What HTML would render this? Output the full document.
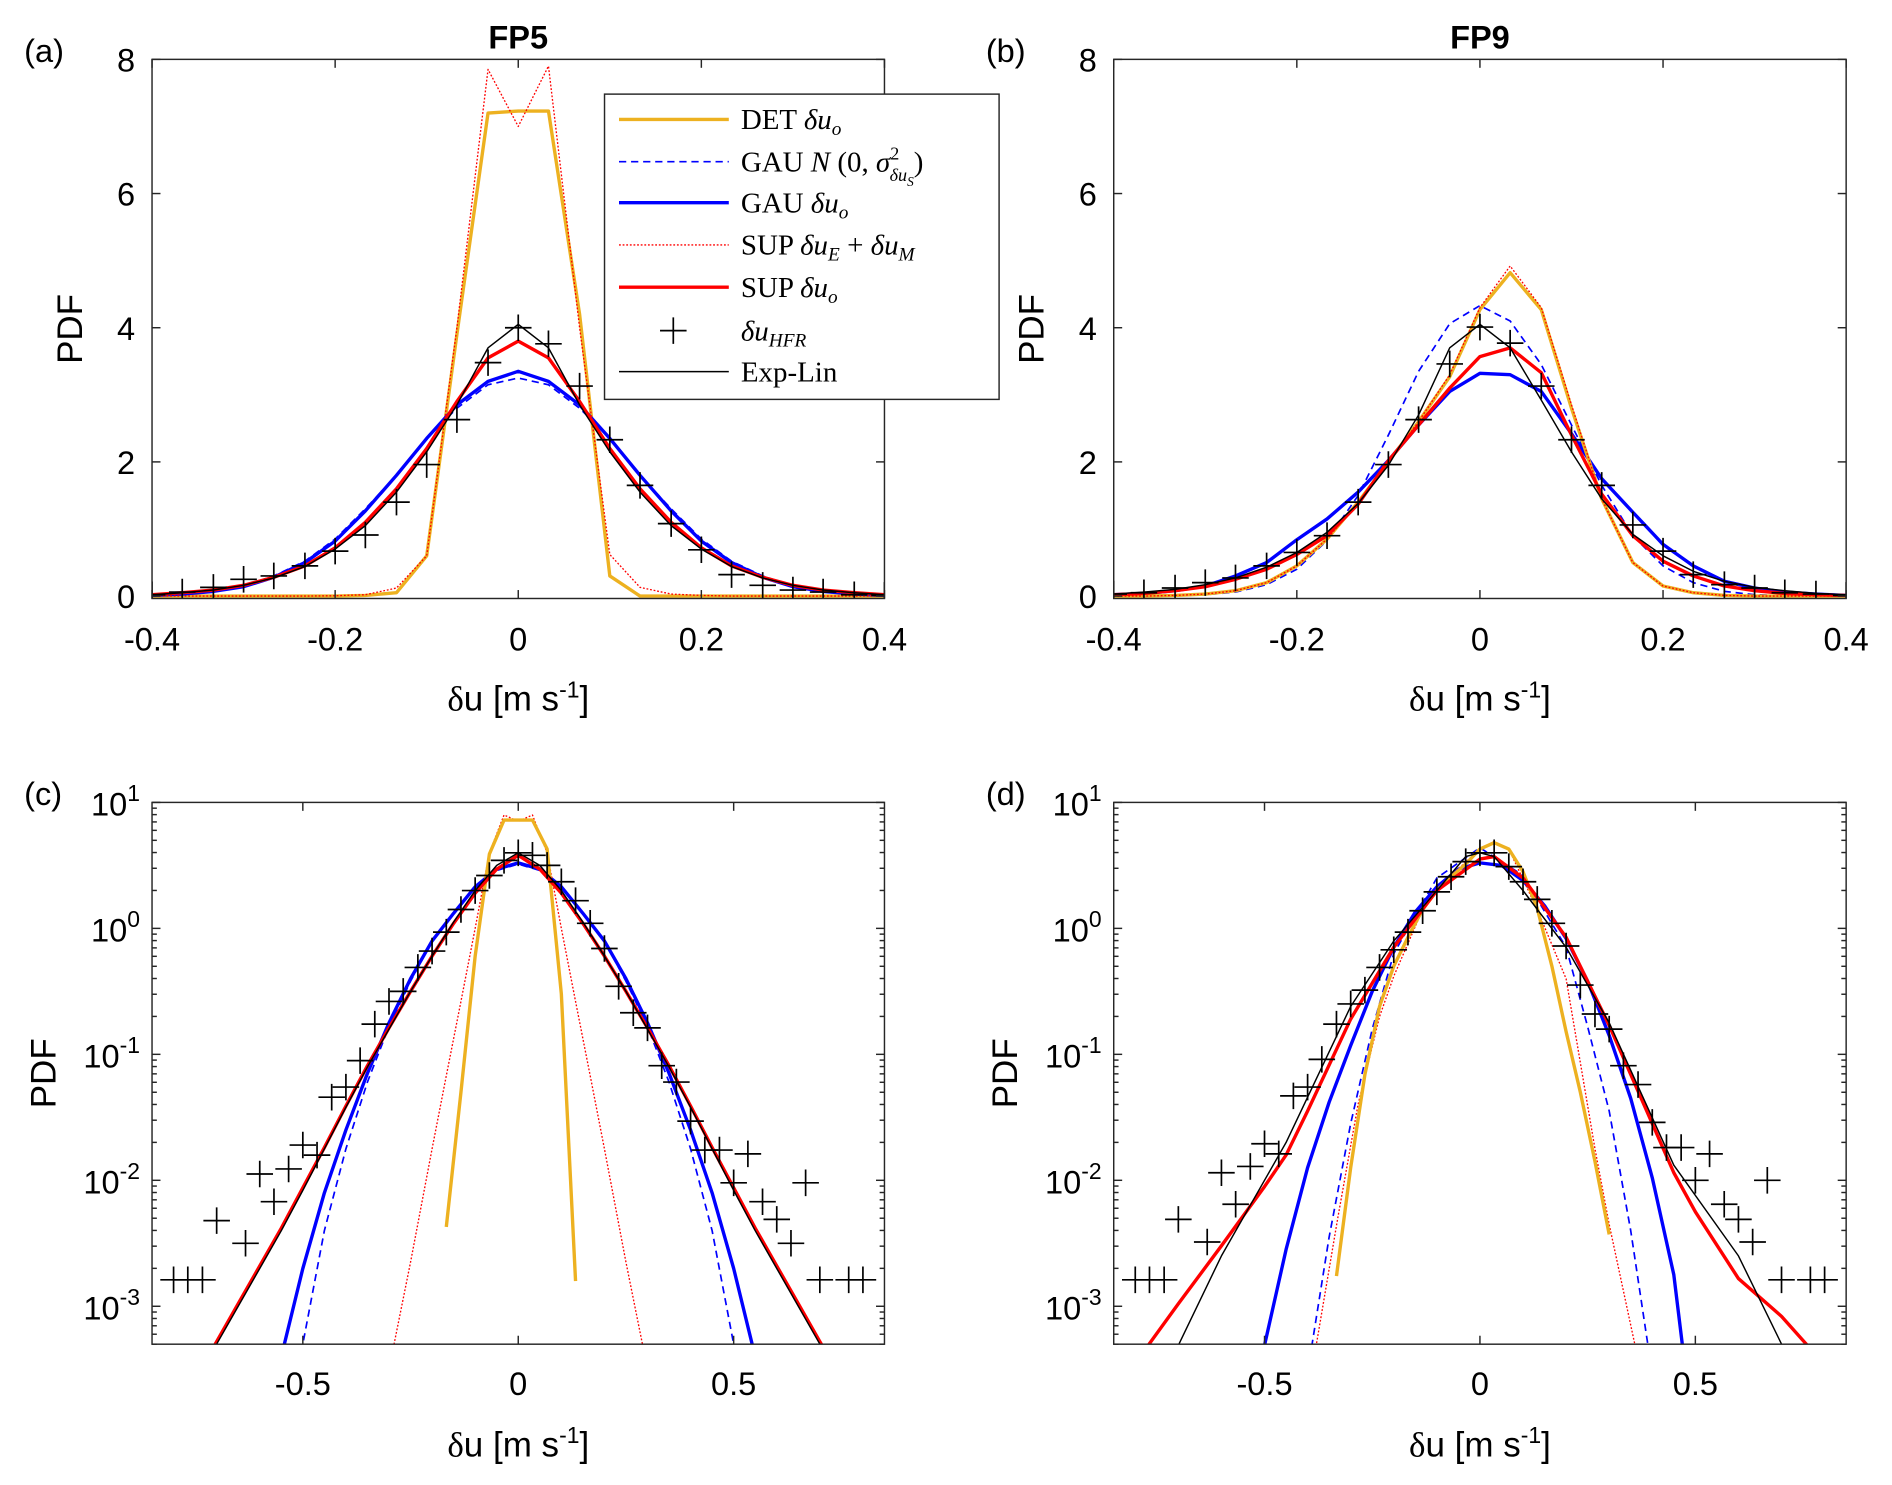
<!DOCTYPE html>
<html><head><meta charset="utf-8"><style>
html,body{margin:0;padding:0;background:#fff;overflow:hidden;width:1892px;height:1485px;}
svg{display:block;}
text{font-family:"Liberation Sans",Arial,sans-serif;fill:#000;}
.serif{font-family:"Liberation Serif","Times New Roman",serif;}
</style></head><body>
<svg id="fig" xmlns="http://www.w3.org/2000/svg" width="1892" height="1485" viewBox="0 0 1568 1230.7" preserveAspectRatio="none">
<defs>
<clipPath id="clipA"><rect x="126" y="49.2" width="607" height="447"/></clipPath>
<clipPath id="clipB"><rect x="923" y="49.2" width="607" height="447"/></clipPath>
<clipPath id="clipC"><rect x="126" y="665" width="607" height="449"/></clipPath>
<clipPath id="clipD"><rect x="923" y="665" width="607" height="449"/></clipPath>
</defs>
<g id="root"></g>
</svg>
<script>
// ---------- linear panel data (x grid -0.4..0.4 step 1/30) ----------
const xLin = [-0.4,-0.367,-0.333,-0.3,-0.267,-0.233,-0.2,-0.167,-0.133,-0.1,-0.067,-0.033,0,0.033,0.067,0.1,0.133,0.167,0.2,0.233,0.267,0.3,0.333,0.367,0.4];
const detA   = [0,0,0,0,0,0,0,0.01,0.05,0.6,3.9,7.2,7.23,7.23,4.2,0.3,0,0,0,0,0,0,0,0,0];
const supEmA = [0,0,0,0,0,0,0.005,0.02,0.12,0.6,4.0,7.85,7.0,7.9,4.0,0.62,0.13,0.03,0.01,0,0,0,0,0,0];
const gauNA  = [0.01,0.03,0.07,0.15,0.3,0.52,0.85,1.3,1.8,2.35,2.8,3.15,3.25,3.15,2.8,2.35,1.8,1.3,0.85,0.52,0.3,0.15,0.07,0.03,0.01];
const gauA   = [0.01,0.03,0.07,0.14,0.28,0.5,0.82,1.27,1.8,2.35,2.85,3.2,3.35,3.2,2.85,2.35,1.8,1.27,0.82,0.5,0.28,0.14,0.07,0.03,0.01];
const supA   = [0.02,0.05,0.09,0.16,0.28,0.45,0.72,1.1,1.6,2.2,2.9,3.55,3.8,3.55,2.9,2.2,1.6,1.1,0.72,0.45,0.28,0.16,0.09,0.05,0.02];
const expA   = [0.02,0.05,0.09,0.16,0.27,0.44,0.7,1.05,1.55,2.15,2.85,3.7,4.05,3.7,2.85,2.15,1.55,1.05,0.7,0.44,0.27,0.16,0.09,0.05,0.02];
const hfrA   = [0.02,0.06,0.13,0.25,0.3,0.45,0.67,0.91,1.4,1.96,2.63,3.48,4.0,3.76,3.13,2.33,1.65,1.08,0.69,0.32,0.16,0.09,0.06,0.02,0.01];

const detB   = [0,0,0.01,0.03,0.08,0.2,0.45,0.85,1.4,2.0,2.6,3.27,4.27,4.82,4.27,2.8,1.45,0.5,0.15,0.05,0.01,0,0,0,0];
const supEmB = [0,0,0.01,0.03,0.08,0.2,0.45,0.85,1.4,2.0,2.6,3.3,4.3,4.92,4.3,2.85,1.45,0.5,0.15,0.05,0.01,0,0,0,0];
const gauNB  = [0,0,0.005,0.02,0.06,0.17,0.4,0.83,1.5,2.4,3.35,4.06,4.33,4.1,3.45,2.55,1.65,0.9,0.45,0.2,0.07,0.02,0.005,0,0];
const gauB   = [0.02,0.04,0.08,0.15,0.3,0.5,0.84,1.15,1.55,2.02,2.55,3.05,3.32,3.3,3.05,2.42,1.75,1.25,0.77,0.45,0.22,0.12,0.06,0.03,0.01];
const supB   = [0.02,0.04,0.08,0.14,0.25,0.4,0.62,0.9,1.37,2.02,2.55,3.1,3.57,3.7,3.33,2.4,1.52,0.9,0.52,0.3,0.15,0.08,0.04,0.02,0.01];
const expB   = [0.03,0.06,0.1,0.17,0.27,0.43,0.65,0.95,1.38,1.95,2.7,3.7,4.05,3.7,2.92,2.15,1.45,0.92,0.6,0.37,0.22,0.13,0.08,0.04,0.02];
const hfrB   = [0.03,0.05,0.12,0.2,0.27,0.45,0.65,0.9,1.4,1.96,2.63,3.46,4.01,3.77,3.13,2.33,1.65,1.06,0.67,0.32,0.17,0.12,0.05,0.03,0.01];

// ---------- log panel data (log10 PDF) ----------
const xSym = [-0.75,-0.7,-0.65,-0.6,-0.55,-0.5,-0.45,-0.4,-0.35,-0.3,-0.25,-0.2,-0.15,-0.1,-0.05,0,0.05,0.1,0.15,0.2,0.25,0.3,0.35,0.4,0.45,0.5,0.55,0.6,0.65,0.7,0.75];
const cExpLog  = [-3.6,-3.3,-3.0,-2.7,-2.4,-2.08,-1.75,-1.42,-1.1,-0.8,-0.5,-0.22,0.05,0.3,0.5,0.6,0.5,0.3,0.05,-0.22,-0.5,-0.8,-1.1,-1.42,-1.75,-2.08,-2.4,-2.7,-3.0,-3.3,-3.6];
const cSupLog  = [-3.58,-3.28,-2.98,-2.68,-2.38,-2.06,-1.74,-1.41,-1.09,-0.79,-0.5,-0.22,0.04,0.28,0.47,0.58,0.47,0.28,0.04,-0.22,-0.5,-0.79,-1.09,-1.41,-1.74,-2.06,-2.38,-2.68,-2.98,-3.28,-3.58];
const cGauLog  = [-7,-6.1,-5.2,-4.2,-3.4,-2.7,-2.1,-1.6,-1.15,-0.75,-0.4,-0.1,0.12,0.33,0.47,0.52,0.47,0.33,0.12,-0.1,-0.4,-0.75,-1.15,-1.6,-2.1,-2.7,-3.4,-4.2,-5.2,-6.1,-7];
const cGauNLog = [-7.2,-6.5,-5.8,-5.0,-4.1,-3.3,-2.4,-1.75,-1.22,-0.78,-0.42,-0.1,0.12,0.32,0.46,0.51,0.46,0.32,0.12,-0.1,-0.42,-0.78,-1.22,-1.75,-2.4,-3.3,-4.1,-5.0,-5.8,-6.5,-7.2];
const cDetX    = [-0.167,-0.133,-0.1,-0.067,-0.033,0,0.033,0.067,0.1,0.133];
const cDetLog  = [-2.37,-1.3,-0.22,0.59,0.86,0.86,0.86,0.63,-0.52,-2.8];
const cSupEmX  = [-0.3,-0.25,-0.2,-0.167,-0.133,-0.1,-0.067,-0.033,0,0.033,0.067,0.1,0.133,0.167,0.2,0.25,0.3];
const cSupEmLog= [-3.5,-2.65,-1.75,-1.17,-0.58,0.0,0.6,0.9,0.85,0.9,0.6,0.0,-0.58,-1.17,-1.75,-2.65,-3.5];
const hfrLogX  = [-0.8,-0.767,-0.733,-0.7,-0.633,-0.6,-0.567,-0.533,-0.5,-0.467,-0.433,-0.4,-0.367,-0.333,-0.3,-0.267,-0.233,-0.2,-0.167,-0.133,-0.1,-0.067,-0.033,0,0.033,0.067,0.1,0.133,0.167,0.2,0.233,0.267,0.3,0.333,0.367,0.4,0.433,0.467,0.5,0.533,0.567,0.6,0.633,0.667,0.7,0.767,0.8];
const hfrCLog  = [-2.79,-2.79,-2.79,-2.32,-2.5,-1.95,-2.17,-1.91,-1.72,-1.8,-1.34,-1.26,-1.05,-0.76,-0.58,-0.5,-0.31,-0.18,-0.03,0.15,0.3,0.42,0.54,0.6,0.58,0.5,0.37,0.22,0.04,-0.16,-0.46,-0.67,-0.79,-1.09,-1.22,-1.53,-1.76,-1.76,-2.02,-1.79,-2.17,-2.31,-2.5,-2.02,-2.79,-2.79,-2.79];
const hfrDLog  = [-2.79,-2.79,-2.79,-2.31,-2.49,-1.94,-2.19,-1.89,-1.71,-1.79,-1.33,-1.26,-1.04,-0.76,-0.6,-0.49,-0.31,-0.17,-0.03,0.14,0.29,0.41,0.53,0.6,0.6,0.49,0.37,0.23,0.04,-0.14,-0.45,-0.68,-0.8,-1.09,-1.24,-1.54,-1.74,-1.74,-2.0,-1.79,-2.19,-2.31,-2.49,-2.0,-2.79,-2.79,-2.79];
const dSupX    = [-0.8,-0.77,-0.7,-0.6,-0.5,-0.45,-0.4,-0.3,-0.2,-0.1,0,0.033,0.1,0.2,0.3,0.4,0.45,0.5,0.6,0.7,0.76,0.8];
const dSupLog  = [-3.5,-3.31,-2.98,-2.52,-2.05,-1.8,-1.45,-0.72,-0.15,0.3,0.55,0.57,0.4,-0.07,-0.77,-1.55,-1.94,-2.25,-2.78,-3.08,-3.31,-3.5];
const dExpX    = [-0.75,-0.7,-0.6,-0.45,-0.3,-0.2,-0.1,-0.033,0,0.033,0.1,0.2,0.3,0.45,0.6,0.7,0.75];
const dExpLog  = [-3.65,-3.31,-2.6,-1.7,-0.62,-0.1,0.3,0.57,0.6,0.57,0.3,-0.15,-0.75,-1.88,-2.6,-3.3,-3.65];
const dGauX    = [-0.52,-0.5,-0.45,-0.4,-0.35,-0.3,-0.25,-0.2,-0.15,-0.1,-0.05,0,0.05,0.1,0.15,0.2,0.25,0.3,0.35,0.4,0.45,0.47,0.49];
const dGauLog  = [-3.6,-3.31,-2.55,-1.9,-1.38,-0.93,-0.5,-0.15,0.13,0.33,0.47,0.52,0.5,0.38,0.18,-0.08,-0.42,-0.85,-1.35,-1.98,-2.75,-3.31,-3.6];
const dGauNX   = [-0.41,-0.39,-0.35,-0.3,-0.25,-0.2,-0.1,0,0.1,0.2,0.25,0.3,0.35,0.39,0.41];
const dGauNLog = [-3.7,-3.31,-2.45,-1.55,-0.8,-0.2,0.4,0.64,0.42,-0.15,-0.78,-1.45,-2.4,-3.31,-3.7];
const dSupEmX  = [-0.4,-0.38,-0.33,-0.283,-0.233,-0.2,-0.133,-0.067,0,0.033,0.067,0.133,0.2,0.267,0.3,0.36,0.38];
const dSupEmLog= [-3.6,-3.31,-2.3,-1.4,-0.7,-0.38,0.15,0.42,0.63,0.69,0.63,0.15,-0.4,-1.75,-2.35,-3.31,-3.6];
const dDetX    = [-0.333,-0.3,-0.267,-0.233,-0.2,-0.167,-0.133,-0.1,-0.067,-0.033,0,0.033,0.067,0.1,0.133,0.167,0.2,0.233,0.267,0.3];
const dDetLog  = [-2.76,-1.9,-1.16,-0.62,-0.3,-0.07,0.15,0.3,0.41,0.51,0.63,0.68,0.63,0.45,0.16,-0.3,-0.82,-1.3,-1.85,-2.43];

const linYTicks = [0,2,4,6,8];
const linXTicks = [-0.4,-0.2,0,0.2,0.4];
const linXTickLabels = ["-0.4","-0.2","0","0.2","0.4"];
const logXTicks = [-0.5,0,0.5];
const logXTickLabels = ["-0.5","0","0.5"];
const logYExps = [1,0,-1,-2,-3];

const NS = "http://www.w3.org/2000/svg";
const root = document.getElementById('root');
const ORANGE = "#EDB120";

function el(tag, attrs, parent){
  const e = document.createElementNS(NS, tag);
  for (const k in attrs) e.setAttribute(k, attrs[k]);
  (parent||root).appendChild(e);
  return e;
}

function makePanel(id, L, R, T, B, isLog, xmin, xmax, ymin, ymax){
  const p = {L,R,T,B,isLog,xmin,xmax,ymin,ymax};
  p.x = v => L + (v - xmin) / (xmax - xmin) * (R - L);
  if (isLog) {
    const lmin = Math.log10(ymin), lmax = Math.log10(ymax);
    p.yl = lv => B - (lv - lmin) / (lmax - lmin) * (B - T);
  } else {
    p.y = v => B - (v - ymin) / (ymax - ymin) * (B - T);
  }
  const g = el('g', {});
  
  
  p.g = g;
  const box = el('rect', {x:L, y:T, width:R-L, height:B-T, fill:'#fff', stroke:'none'}, g);
  
  
  p.plot = el('g', {'clip-path':'url(#clip' + id.toUpperCase() + ')'}, g);
  return p;
}

function drawAxes(p, id){
  const g = el('g', {stroke:'#262626', 'stroke-width':1.2, fill:'none'}, p.g);
  
  
  el('rect', {x:p.L, y:p.T, width:p.R-p.L, height:p.B-p.T}, g);
  const tl = 7;
  if (!p.isLog) {
    linXTicks.forEach((v,i) => {
      const X = p.x(v);
      el('line', {x1:X, y1:p.B, x2:X, y2:p.B-tl}, g);
      el('line', {x1:X, y1:p.T, x2:X, y2:p.T+tl}, g);
      const t = el('text', {x:X, y:p.B+43, 'text-anchor':'middle', 'font-size':27, stroke:'none'}, p.g);
      
      
      t.textContent = linXTickLabels[i];
    });
    linYTicks.forEach(v => {
      const Y = p.y(v);
      el('line', {x1:p.L, y1:Y, x2:p.L+tl, y2:Y}, g);
      el('line', {x1:p.R, y1:Y, x2:p.R-tl, y2:Y}, g);
      const t = el('text', {x:p.L-14, y:Y+10, 'text-anchor':'end', 'font-size':27, stroke:'none'}, p.g);
      
      
      t.textContent = String(v);
    });
  } else {
    logXTicks.forEach((v,i) => {
      const X = p.x(v);
      el('line', {x1:X, y1:p.B, x2:X, y2:p.B-tl}, g);
      el('line', {x1:X, y1:p.T, x2:X, y2:p.T+tl}, g);
      const t = el('text', {x:X, y:p.B+42, 'text-anchor':'middle', 'font-size':27, stroke:'none'}, p.g);
      
      
      t.textContent = logXTickLabels[i];
    });
    for (let d = -4; d <= 1; d++) {
      for (let m = 1; m <= 9; m++) {
        const lv = d + Math.log10(m);
        if (lv < Math.log10(p.ymin) - 1e-9 || lv > Math.log10(p.ymax) + 1e-9) continue;
        const Y = p.yl(lv);
        const len = m === 1 ? tl : 4;
        el('line', {x1:p.L, y1:Y, x2:p.L+len, y2:Y}, g);
        el('line', {x1:p.R, y1:Y, x2:p.R-len, y2:Y}, g);
      }
    }
    logYExps.forEach(e => {
      const Y = p.yl(e);
      const t = el('text', {x:p.L-10, y:Y+11, 'text-anchor':'end', 'font-size':27, stroke:'none'}, p.g);
      
      
      const a = el('tspan', {}, t); a.textContent = '10';
      const b = el('tspan', {dy:-12, 'font-size':19}, t); b.textContent = String(e);
    });
  }
}

function drawLine(p, xs, ys, style, name, isLogVals){
  let d = '';
  xs.forEach((v,i) => {
    const X = p.x(v);
    const Y = isLogVals ? p.yl(ys[i]) : p.y(ys[i]);
    d += (i ? 'L' : 'M') + X.toFixed(2) + ',' + Y.toFixed(2);
  });
  const attrs = Object.assign({d:d, fill:'none', 'stroke-linejoin':'round'}, style);
  const path = el('path', attrs, p.plot);
  
  
}

function drawPluses(p, xs, ys, name, isLogVals){
  const g = el('g', {stroke:'#000', 'stroke-width':1.4}, p.plot);
  
  
  xs.forEach((v,i) => {
    const X = p.x(v);
    const Y = isLogVals ? p.yl(ys[i]) : p.y(ys[i]);
    const s = 11;
    const pl = el('path', {d:`M${X-s},${Y}H${X+s}M${X},${Y-s}V${Y+s}`}, g);
    
    
  });
}

const S_DET  = {stroke:ORANGE, 'stroke-width':2.8};
const S_GAUN = {stroke:'#0000FF', 'stroke-width':1.4, 'stroke-dasharray':'6,4'};
const S_GAU  = {stroke:'#0000FF', 'stroke-width':2.8};
const S_SUPEM= {stroke:'#FF0000', 'stroke-width':1.1, 'stroke-dasharray':'1.5,1.5'};
const S_SUP  = {stroke:'#FF0000', 'stroke-width':2.8};
const S_EXP  = {stroke:'#000', 'stroke-width':1.2};

function labels(p, tag, title, pdfOff){
  const t = el('text', {x:p.L-106, y:p.T+2, 'font-size':27});
  
  
  t.textContent = tag;
  if (title) {
    const h = el('text', {x:(p.L+p.R)/2, y:p.T-9, 'text-anchor':'middle', 'font-size':27, 'font-weight':'bold'});
    
    
    h.textContent = title;
  }
  const yl = el('text', {x:0, y:0, 'font-size':29, 'text-anchor':'middle', transform:`translate(${p.L-pdfOff},${(p.T+p.B)/2}) rotate(-90)`});
  
  
  yl.textContent = 'PDF';
  const xl = el('text', {x:(p.L+p.R)/2, y:p.B+93, 'font-size':29, 'text-anchor':'middle'});
  
  
  const a = el('tspan', {class:'serif'}, xl); a.textContent = 'δ';
  const b = el('tspan', {}, xl); b.textContent = 'u [m s';
  const c = el('tspan', {dy:-11, 'font-size':19}, xl); c.textContent = '-1';
  const d = el('tspan', {dy:11}, xl); d.textContent = ']';
}

// Panel a
const pa = makePanel('a', 126, 733, 49.2, 496, false, -0.4, 0.4, -0.036, 8);
drawLine(pa, xLin, detA, S_DET, 'det-line');
drawLine(pa, xLin, gauNA, S_GAUN, 'gau-normal-line');
drawLine(pa, xLin, gauA, S_GAU, 'gau-line');
drawLine(pa, xLin, supEmA, S_SUPEM, 'sup-em-line');
drawLine(pa, xLin, supA, S_SUP, 'sup-line');
drawLine(pa, xLin, expA, S_EXP, 'exp-lin-line');
drawPluses(pa, xLin, hfrA, 'hfr-markers');
drawAxes(pa, 'a'); labels(pa, '(a)', 'FP5', 58);

// Panel b
const pb = makePanel('b', 923, 1530, 49.2, 496, false, -0.4, 0.4, -0.036, 8);
drawLine(pb, xLin, gauNB, S_GAUN, 'gau-normal-line');
drawLine(pb, xLin, gauB, S_GAU, 'gau-line');
drawLine(pb, xLin, detB, S_DET, 'det-line');
drawLine(pb, xLin, supEmB, S_SUPEM, 'sup-em-line');
drawLine(pb, xLin, supB, S_SUP, 'sup-line');
drawLine(pb, xLin, expB, S_EXP, 'exp-lin-line');
drawPluses(pb, xLin, hfrB, 'hfr-markers');
drawAxes(pb, 'b'); labels(pb, '(b)', 'FP9', 58);

// Panel c
const pc = makePanel('c', 126, 733, 665, 1114, true, -0.85, 0.85, 5e-4, 10);
drawLine(pc, xSym, cGauNLog, S_GAUN, 'gau-normal-line', true);
drawLine(pc, xSym, cGauLog, S_GAU, 'gau-line', true);
drawLine(pc, cSupEmX, cSupEmLog, S_SUPEM, 'sup-em-line', true);
drawLine(pc, cDetX, cDetLog, S_DET, 'det-line', true);
drawLine(pc, xSym, cSupLog, S_SUP, 'sup-line', true);
drawLine(pc, xSym, cExpLog, S_EXP, 'exp-lin-line', true);
drawPluses(pc, hfrLogX, hfrCLog, 'hfr-markers', true);
drawAxes(pc, 'c'); labels(pc, '(c)', null, 80);

// Panel d
const pd = makePanel('d', 923, 1530, 665, 1114, true, -0.85, 0.85, 5e-4, 10);
drawLine(pd, dGauNX, dGauNLog, S_GAUN, 'gau-normal-line', true);
drawLine(pd, dGauX, dGauLog, S_GAU, 'gau-line', true);
drawLine(pd, dSupEmX, dSupEmLog, S_SUPEM, 'sup-em-line', true);
drawLine(pd, dDetX, dDetLog, S_DET, 'det-line', true);
drawLine(pd, dSupX, dSupLog, S_SUP, 'sup-line', true);
drawLine(pd, dExpX, dExpLog, S_EXP, 'exp-lin-line', true);
drawPluses(pd, hfrLogX, hfrDLog, 'hfr-markers', true);
drawAxes(pd, 'd'); labels(pd, '(d)', null, 80);

// Legend
const lg = el('g', {});


el('rect', {x:501, y:78, width:327, height:253, fill:'#fff', stroke:'#262626', 'stroke-width':1.2}, lg);
const rows = [99,134,168,203,238,274,308];
const styles = [S_DET, S_GAUN, S_GAU, S_SUPEM, S_SUP, null, S_EXP];
const legendHTML = [
  ['DET ', ['δ','u','o']],
  ['GAU ', null],
  ['GAU ', ['δ','u','o']],
  ['SUP ', null],
  ['SUP ', ['δ','u','o']],
  ['', ['δ','u','HFR']],
  ['Exp-Lin', null]
];
rows.forEach((Y,i) => {
  const en = el('g', {}, lg);
  
  
  if (styles[i]) {
    el('line', Object.assign({x1:513, y1:Y, x2:604, y2:Y}, styles[i]), en);
  } else {
    el('path', {d:`M${558-11},${Y}H${558+11}M558,${Y-11}V${Y+11}`, stroke:'#000', 'stroke-width':1.4}, en);
  }
  const t = el('text', {x:614, y:Y+8, 'font-size':24, class:'serif'}, en);
  const a = el('tspan', {}, t); a.textContent = legendHTML[i][0];
  if (i === 1) {
    const n = el('tspan', {'font-style':'italic'}, t); n.textContent = 'N ';
    const b = el('tspan', {}, t); b.textContent = '(0, ';
    const s = el('tspan', {'font-style':'italic'}, t); s.textContent = 'σ';
    const sp = el('tspan', {dy:-10, 'font-size':15}, t); sp.textContent = '2';
    const sb = el('tspan', {dx:-8, dy:18, 'font-size':15, 'font-style':'italic'}, t); sb.textContent = 'δu';
    const sbb = el('tspan', {dy:4, 'font-size':11, 'font-style':'italic'}, t); sbb.textContent = 'S';
    const c = el('tspan', {dy:-12}, t); c.textContent = ')';
  } else if (i === 3) {
    const s1 = el('tspan', {'font-style':'italic'}, t); s1.textContent = 'δu';
    const s2 = el('tspan', {dy:5, 'font-size':16, 'font-style':'italic'}, t); s2.textContent = 'E';
    const s3 = el('tspan', {dy:-5}, t); s3.textContent = ' + ';
    const s4 = el('tspan', {'font-style':'italic'}, t); s4.textContent = 'δu';
    const s5 = el('tspan', {dy:5, 'font-size':16, 'font-style':'italic'}, t); s5.textContent = 'M';
  } else if (legendHTML[i][1]) {
    const parts = legendHTML[i][1];
    const s1 = el('tspan', {'font-style':'italic'}, t); s1.textContent = parts[0] + parts[1];
    const s2 = el('tspan', {dy:5, 'font-size':16, 'font-style':'italic'}, t); s2.textContent = parts[2];
  }
});
</script>
</body></html>
